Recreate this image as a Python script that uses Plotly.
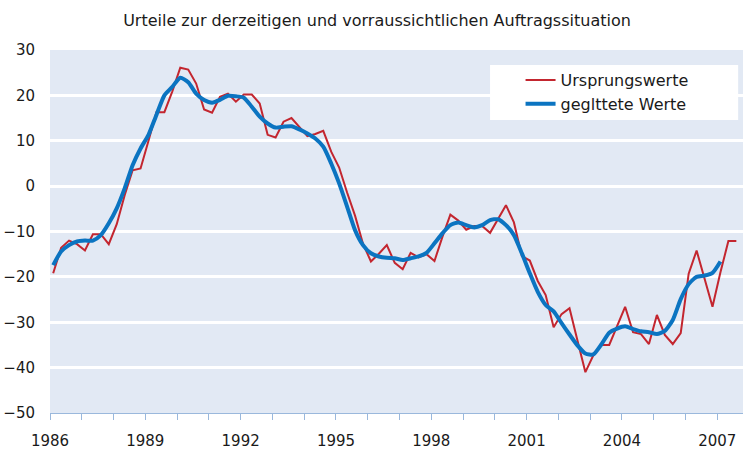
import plotly.graph_objects as go

# Quarterly data, 1986 Q1 .. 2007 Q3
years_start = 1986
raw_values = [
    -19.2, -13.6, -12.0, -12.8, -14.2, -10.6, -10.6, -12.8,   # 1986-1987
    -8.4, -2.0, 3.5, 3.9, 10.0, 16.3, 16.3, 20.9,             # 1988-1989
    26.1, 25.7, 22.6, 16.9, 16.2, 19.7, 20.4, 18.6,           # 1990-1991
    20.2, 20.2, 18.2, 11.3, 10.7, 14.2, 15.0, 13.0,           # 1992-1993
    11.0, 11.5, 12.2, 7.6, 4.1, -1.4, -6.5, -12.7,            # 1994-1995
    -16.6, -14.9, -13.0, -16.9, -18.3, -14.7, -15.7, -15.0,   # 1996-1997
    -16.5, -11.2, -6.3, -7.6, -9.6, -8.8, -8.8, -10.3,        # 1998-1999
    -7.2, -4.2, -8.0, -15.4, -16.4, -20.9, -24.0, -31.1,      # 2000-2001
    -28.2, -26.9, -34.0, -41.0, -37.3, -35.0, -35.0, -31.0,   # 2002-2003
    -26.6, -32.2, -32.6, -34.8, -28.4, -32.8, -34.8, -32.4,   # 2004-2005
    -19.3, -14.2, -20.5, -26.6, -19.0, -12.1, -12.1           # 2006-2007
]
smooth_values = [
    -17.4, -14.4, -13.0, -12.2, -12.0, -12.0, -10.8, -8.2,
    -4.9, -0.5, 4.6, 8.3, 11.3, 15.7, 20.0, 21.9,
    23.9, 22.9, 20.4, 19.0, 18.4, 19.0, 19.9, 19.8,
    19.5, 17.5, 15.3, 13.8, 12.9, 13.1, 13.2, 12.5,
    11.6, 10.5, 8.7, 5.0, 0.6, -4.5, -9.7, -13.0,
    -14.8, -15.5, -15.8, -15.9, -16.3, -15.9, -15.5, -14.7,
    -12.6, -10.4, -8.6, -8.0, -8.6, -9.1, -8.6, -7.5,
    -7.3, -8.6, -10.8, -14.8, -19.2, -23.3, -26.2, -27.6,
    -30.2, -32.7, -35.1, -36.9, -37.1, -34.9, -32.3, -31.4,
    -30.9, -31.5, -32.0, -32.2, -32.6, -31.9, -29.5, -24.9,
    -21.6, -20.0, -19.7, -19.1, -16.6
]
tick_years = list(range(1986, 2008))
tick_labels = [str(y) if (y - 1986) % 3 == 0 else "" for y in tick_years]
y_ticks = [30, 20, 10, 0, -10, -20, -30, -40, -50]

title_text = "Urteile zur derzeitigen und vorraussichtlichen Auftragssituation"
name_raw = "Ursprungswerte"
name_smooth = "geglttete Werte"

# quarter positions (placed within each year)
def quarter_pos(i):
    return years_start + (i // 4) + (i % 4) * 0.25 + 0.1

x_raw = [quarter_pos(i) for i in range(len(raw_values))]
x_smooth = [quarter_pos(i) for i in range(len(smooth_values))]

FONT = "DejaVu Sans, Liberation Sans, Arial, sans-serif"

fig = go.Figure()
fig.add_trace(go.Scatter(x=x_raw, y=raw_values, mode="lines", name=name_raw,
                         line=dict(color="#c3262f", width=2)))
fig.add_trace(go.Scatter(x=x_smooth, y=smooth_values, mode="lines", name=name_smooth,
                         line=dict(color="#0b74c1", width=4, shape="spline", smoothing=0.6)))

fig.update_layout(
    width=743, height=450,
    margin=dict(l=50, r=0, t=50, b=37),
    paper_bgcolor="white",
    plot_bgcolor="#e2e9f4",
    font=dict(family=FONT, size=15, color="#1a1a1a"),
    title=dict(text=title_text, x=377/743, xref="container", xanchor="center",
               y=1 - 20/450, yref="container", yanchor="middle",
               font=dict(family=FONT, size=16, color="#1a1a1a")),
    showlegend=True,
    legend=dict(x=0.679, xanchor="left", y=0.964, yanchor="top",
                bgcolor="rgba(0,0,0,0)", borderwidth=0,
                font=dict(family=FONT, size=16, color="#1a1a1a"),
                tracegroupgap=0),
    shapes=[dict(type="rect", xref="paper", yref="paper",
                 x0=0.635, x1=0.993, y0=0.807, y1=0.959,
                 fillcolor="white", line=dict(width=0), layer="below")],
)
fig.update_xaxes(range=[1986, 2007.81], tickmode="array", tickvals=tick_years,
                 ticktext=tick_labels, showgrid=False, zeroline=False,
                 showline=True, linecolor="#9ab8dc", linewidth=1,
                 ticks="outside", ticklen=6, tickcolor="#9ab8dc", tickwidth=1,
                 ticklabelstandoff=8,
                 tickfont=dict(size=15), automargin=False)
fig.update_yaxes(range=[-50, 30], tickmode="array", tickvals=y_ticks,
                 showgrid=True, gridcolor="white", gridwidth=2.5,
                 zeroline=False, showline=False, ticks="",
                 ticklabelstandoff=14, tickfont=dict(size=15), automargin=False)

fig.write_html("out.html", config={"displayModeBar": False},
               post_script="document.body.style.margin='0';document.body.style.overflow='hidden';")
